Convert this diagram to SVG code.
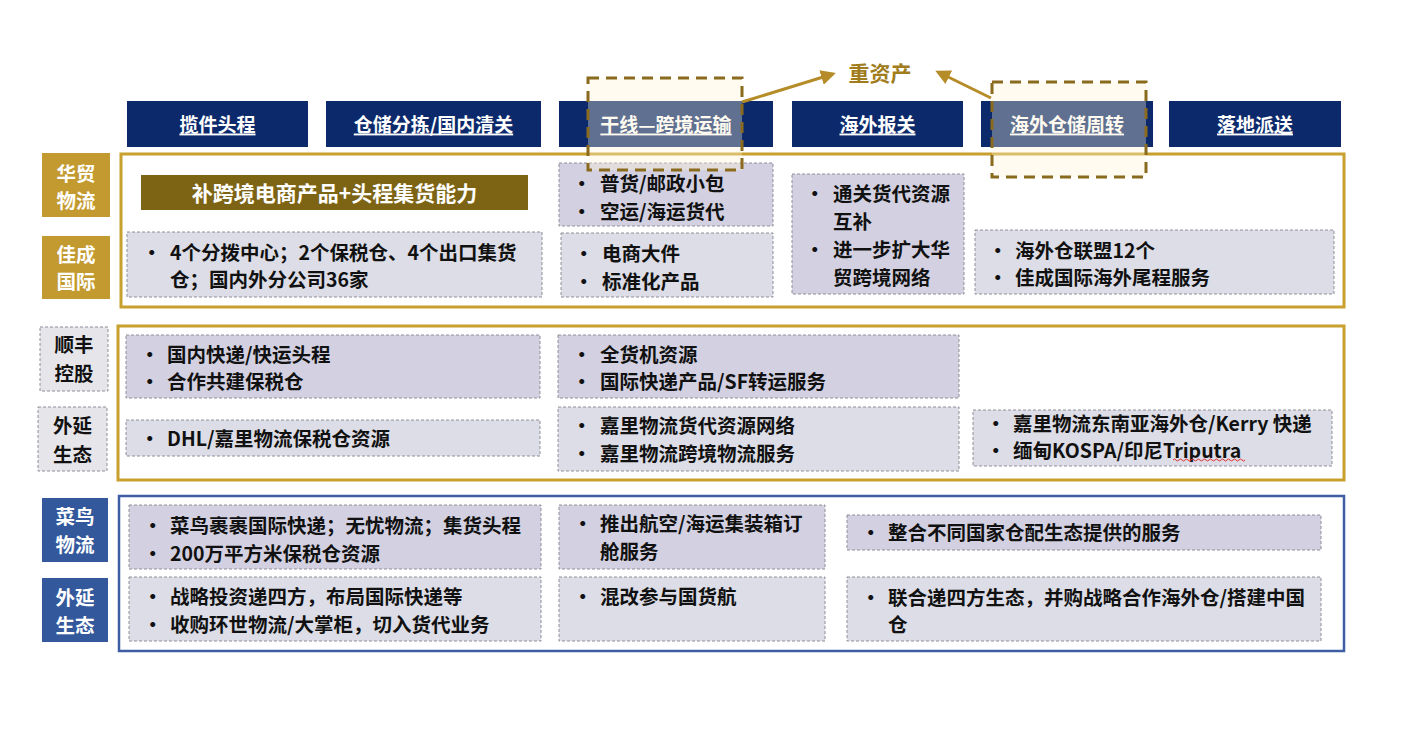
<svg xmlns="http://www.w3.org/2000/svg" width="1408" height="732" viewBox="0 0 1408 732">
<defs>
<style>
text{font-family:"Noto Sans CJK SC","Noto Sans",sans-serif;font-weight:bold;}
.hd rect{fill:#0c2a6b;}
.hd text{fill:#fff;font-size:19px;text-anchor:middle;dominant-baseline:central;text-decoration:underline;}
.t{fill:#111;font-size:19.5px;dominant-baseline:central;}
.lav{fill:#d3d1e1;stroke:#8e8e98;stroke-width:1;stroke-dasharray:3 2;}
.gry{fill:#dcdde6;stroke:#8e8e98;stroke-width:1;stroke-dasharray:3 2;}
.gl{fill:#c39a2f;}
.bl{fill:#33589c;}
.dl{fill:#e5e5ea;stroke:#8e8e98;stroke-width:1;stroke-dasharray:3 2;}
.lt{fill:#fff;font-size:19.5px;text-anchor:middle;dominant-baseline:central;}
.ltd{fill:#111;font-size:19.5px;text-anchor:middle;dominant-baseline:central;}
.dash{fill:#fff3d6;fill-opacity:0.35;stroke:#8a6b1e;stroke-width:3;stroke-dasharray:11 7;}
</style>
<marker id="ah" viewBox="0 0 10 10" refX="8" refY="5" markerWidth="5" markerHeight="5" orient="auto">
<path d="M0,0 L10,5 L0,10 z" fill="#b58c28"/>
</marker>
</defs>
<rect width="1408" height="732" fill="#fff"/>

<!-- section frames -->
<g id="sec1-frame"><rect x="121" y="154" width="1223" height="153" fill="none" stroke="#c8a02e" stroke-width="3"/></g>
<g id="sec2-frame"><rect x="118" y="326" width="1226" height="154" fill="none" stroke="#c8a02e" stroke-width="3"/></g>
<g id="sec3-frame"><rect x="119" y="496" width="1225" height="155" fill="none" stroke="#3d5ea5" stroke-width="2.5"/></g>

<!-- headers -->
<g id="h1" class="hd"><rect x="127" y="101" width="181" height="46"/><text x="217.5" y="123">揽件头程</text></g>
<g id="h2" class="hd"><rect x="326" y="101" width="215" height="46"/><text x="433.5" y="123">仓储分拣/国内清关</text></g>
<g id="h3" class="hd"><rect x="559" y="101" width="214" height="46"/><text x="666" y="123">干线—跨境运输</text></g>
<g id="h4" class="hd"><rect x="792" y="101" width="171" height="46"/><text x="877.5" y="123">海外报关</text></g>
<g id="h5" class="hd"><rect x="981" y="101" width="172" height="46"/><text x="1067" y="123">海外仓储周转</text></g>
<g id="h6" class="hd"><rect x="1169" y="101" width="172" height="46"/><text x="1255" y="123">落地派送</text></g>

<!-- left labels -->
<g id="lbl-huamao"><rect class="gl" x="42" y="153" width="68" height="64"/><text class="lt" x="76" y="172">华贸</text><text class="lt" x="76" y="199">物流</text></g>
<g id="lbl-jiacheng"><rect class="gl" x="42" y="236" width="68" height="63"/><text class="lt" x="76" y="253">佳成</text><text class="lt" x="76" y="280">国际</text></g>
<g id="lbl-sf"><rect class="dl" x="40" y="327" width="68" height="64"/><text class="ltd" x="74" y="343">顺丰</text><text class="ltd" x="74" y="372">控股</text></g>
<g id="lbl-sf-eco"><rect class="dl" x="38" y="407" width="69" height="64"/><text class="ltd" x="72.5" y="424">外延</text><text class="ltd" x="72.5" y="453">生态</text></g>
<g id="lbl-cainiao"><rect class="bl" x="42" y="498" width="66" height="64"/><text class="lt" x="75" y="515">菜鸟</text><text class="lt" x="75" y="543">物流</text></g>
<g id="lbl-cn-eco"><rect class="bl" x="42" y="578" width="66" height="64"/><text class="lt" x="75" y="596">外延</text><text class="lt" x="75" y="624">生态</text></g>

<!-- section 1 -->
<g id="s1-banner"><rect x="141" y="175" width="387" height="35" fill="#7d6414"/><text x="334.5" y="191.5" fill="#fff" font-size="21" text-anchor="middle" dominant-baseline="central">补跨境电商产品+头程集货能力</text></g>
<g id="s1-a"><rect class="gry" x="127" y="232" width="415" height="65"/>
<text class="t" x="142" y="251">•</text><text class="t" x="170" y="251">4个分拨中心；2个保税仓、4个出口集货</text><text class="t" x="170" y="278">仓；国内外分公司36家</text></g>
<g id="s1-b"><rect class="lav" x="559" y="163" width="214" height="63"/>
<text class="t" x="572" y="182">•</text><text class="t" x="600" y="182">普货/邮政小包</text>
<text class="t" x="572" y="210">•</text><text class="t" x="600" y="210">空运/海运货代</text></g>
<g id="s1-c"><rect class="gry" x="561" y="233" width="212" height="64"/>
<text class="t" x="574" y="252">•</text><text class="t" x="602" y="252">电商大件</text>
<text class="t" x="574" y="280">•</text><text class="t" x="602" y="280">标准化产品</text></g>
<g id="s1-d"><rect class="lav" x="792" y="174" width="172" height="120"/>
<text class="t" x="805" y="192">•</text><text class="t" x="833" y="192">通关货代资源</text><text class="t" x="833" y="220">互补</text>
<text class="t" x="805" y="248">•</text><text class="t" x="833" y="248">进一步扩大华</text><text class="t" x="833" y="276">贸跨境网络</text></g>
<g id="s1-e"><rect class="gry" x="975" y="230" width="359" height="64"/>
<text class="t" x="988" y="249">•</text><text class="t" x="1015" y="249">海外仓联盟12个</text>
<text class="t" x="988" y="276">•</text><text class="t" x="1015" y="276">佳成国际海外尾程服务</text></g>

<!-- section 2 -->
<g id="s2-a"><rect class="lav" x="126" y="335" width="414" height="63"/>
<text class="t" x="140" y="353">•</text><text class="t" x="167" y="353">国内快递/快运头程</text>
<text class="t" x="140" y="380">•</text><text class="t" x="167" y="380">合作共建保税仓</text></g>
<g id="s2-b"><rect class="gry" x="126" y="420" width="414" height="36"/>
<text class="t" x="140" y="437">•</text><text class="t" x="167" y="437">DHL/嘉里物流保税仓资源</text></g>
<g id="s2-c"><rect class="lav" x="558" y="335" width="401" height="63"/>
<text class="t" x="572" y="353">•</text><text class="t" x="600" y="353">全货机资源</text>
<text class="t" x="572" y="380">•</text><text class="t" x="600" y="380">国际快递产品/SF转运服务</text></g>
<g id="s2-d"><rect class="gry" x="558" y="407" width="401" height="64"/>
<text class="t" x="572" y="424">•</text><text class="t" x="600" y="424">嘉里物流货代资源网络</text>
<text class="t" x="572" y="452">•</text><text class="t" x="600" y="452">嘉里物流跨境物流服务</text></g>
<g id="s2-e"><rect class="gry" x="973" y="410" width="359" height="56"/>
<text class="t" x="986" y="422">•</text><text class="t" x="1013" y="422">嘉里物流东南亚海外仓/Kerry 快递</text>
<text class="t" x="986" y="449">•</text><text class="t" x="1013" y="449">缅甸KOSPA/印尼Triputra</text>
<path d="M1173,460 q1.5,-2 3,0 t3,0 t3,0 t3,0 t3,0 t3,0 t3,0 t3,0 t3,0 t3,0 t3,0 t3,0 t3,0 t3,0 t3,0 t3,0 t3,0 t3,0 t3,0 t3,0 t3,0 t3,0 t3,0 t3,0" fill="none" stroke="#e03030" stroke-width="1"/></g>

<!-- section 3 -->
<g id="s3-a"><rect class="lav" x="129" y="505" width="412" height="64"/>
<text class="t" x="143" y="524">•</text><text class="t" x="170" y="524">菜鸟裹裹国际快递；无忧物流；集货头程</text>
<text class="t" x="143" y="552">•</text><text class="t" x="170" y="552">200万平方米保税仓资源</text></g>
<g id="s3-b"><rect class="gry" x="129" y="577" width="412" height="64"/>
<text class="t" x="143" y="595">•</text><text class="t" x="170" y="595">战略投资递四方，布局国际快递等</text>
<text class="t" x="143" y="623">•</text><text class="t" x="170" y="623">收购环世物流/大掌柜，切入货代业务</text></g>
<g id="s3-c"><rect class="lav" x="559" y="505" width="266" height="64"/>
<text class="t" x="573" y="522">•</text><text class="t" x="600" y="522">推出航空/海运集装箱订</text><text class="t" x="600" y="550">舱服务</text></g>
<g id="s3-d"><rect class="gry" x="559" y="577" width="266" height="64"/>
<text class="t" x="573" y="595">•</text><text class="t" x="600" y="595">混改参与国货航</text></g>
<g id="s3-e"><rect class="lav" x="847" y="515" width="474" height="35"/>
<text class="t" x="861" y="531">•</text><text class="t" x="888" y="531">整合不同国家仓配生态提供的服务</text></g>
<g id="s3-f"><rect class="gry" x="847" y="577" width="474" height="64"/>
<text class="t" x="861" y="596">•</text><text class="t" x="888" y="596">联合递四方生态，并购战略合作海外仓/搭建中国</text><text class="t" x="888" y="623">仓</text></g>

<!-- heavy asset highlight -->
<g id="heavy-1"><rect class="dash" x="588" y="78" width="154" height="92"/></g>
<g id="heavy-2"><rect class="dash" x="992" y="82" width="154" height="95"/></g>
<g id="heavy-label"><text x="880" y="72" fill="#a07c1c" font-size="21" text-anchor="middle" dominant-baseline="central">重资产</text></g>
<g id="connectors">
<line x1="742" y1="102" x2="833" y2="74" stroke="#b58c28" stroke-width="3" marker-end="url(#ah)"/>
<line x1="991" y1="98" x2="938" y2="72" stroke="#b58c28" stroke-width="3" marker-end="url(#ah)"/>
</g>
</svg>
